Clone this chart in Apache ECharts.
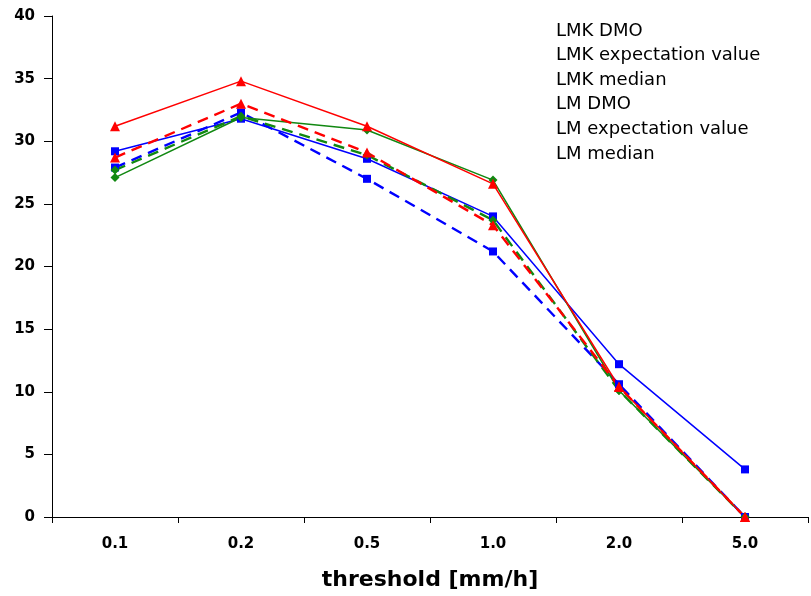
<!DOCTYPE html>
<html>
<head>
<meta charset="utf-8">
<script src="https://cdn.jsdelivr.net/npm/echarts@6/dist/echarts.min.js"></script>
<style>html,body{margin:0;padding:0;background:#fff;}#chart{width:811px;height:596px;}</style>
</head>
<body>
<div id="chart"></div>
<script>
var categories = ['0.1', '0.2', '0.5', '1.0', '2.0', '5.0'];
var seriesNames = ['LMK DMO', 'LMK expectation value', 'LMK median', 'LM DMO', 'LM expectation value', 'LM median'];
var lmkDMO = [29.2, 31.8, 28.6, 24.0, 12.2, 3.8];
var lmkExpectation = [31.2, 34.8, 31.2, 26.6, 10.4, 0];
var lmkMedian = [27.1, 31.9, 30.9, 26.9, 10.1, 0];
var lmDMO = [27.9, 32.3, 27.0, 21.2, 10.6, 0];
var lmExpectation = [28.7, 33.0, 29.1, 23.3, 10.4, 0];
var lmMedian = [27.7, 32.0, 28.9, 23.7, 10.1, 0];
var yTicks = {min: 0, max: 40, interval: 5};

var chart = echarts.init(document.getElementById('chart'));

function mk(name, data, color, symbol, size, dashed) {
  return {
    name: name, type: 'line', data: data,
    symbol: symbol, symbolSize: size,
    itemStyle: {color: color},
    lineStyle: {color: color, width: dashed ? 2.4 : 1.5, type: dashed ? [11, 7] : 'solid'},
    emphasis: {disabled: true}
  };
}

var option = {
  animation: false,
  backgroundColor: '#fff',
  grid: {left: 52, right: 3, top: 16, bottom: 79, containLabel: false},
  legend: {
    orient: 'vertical', left: 546, top: 16,
    itemWidth: 0, itemHeight: 0, itemGap: 4.6,
    selectedMode: false,
    icon: 'none',
    textStyle: {fontFamily: 'DejaVu Sans', fontSize: 18, color: '#000', lineHeight: 20},
    data: seriesNames
  },
  xAxis: {
    type: 'category', data: categories, boundaryGap: true,
    name: 'threshold [mm/h]', nameLocation: 'middle', nameGap: 52,
    nameTextStyle: {fontFamily: 'DejaVu Sans', fontWeight: 'bold', fontSize: 22, color: '#000'},
    axisLine: {lineStyle: {color: '#000', width: 1}},
    axisTick: {show: true, length: 6, lineStyle: {color: '#000'}},
    axisLabel: {margin: 20, fontFamily: 'DejaVu Sans', fontWeight: 'bold', fontSize: 15, color: '#000'},
    splitLine: {show: false}
  },
  yAxis: {
    type: 'value', min: yTicks.min, max: yTicks.max, interval: yTicks.interval,
    axisLine: {show: true, lineStyle: {color: '#000', width: 1}},
    axisTick: {show: true, length: 8, lineStyle: {color: '#000'}},
    axisLabel: {margin: 17, fontFamily: 'DejaVu Sans', fontWeight: 'bold', fontSize: 15, color: '#000'},
    splitLine: {show: false}
  },
  series: [
    mk(seriesNames[0], lmkDMO, '#0000ff', 'rect', 8, false),
    mk(seriesNames[3], lmDMO, '#0000ff', 'rect', 8, true),
    mk(seriesNames[2], lmkMedian, '#118811', 'diamond', 9, false),
    mk(seriesNames[5], lmMedian, '#118811', 'diamond', 9, true),
    mk(seriesNames[4], lmExpectation, '#ff0000', 'triangle', 10, true),
    mk(seriesNames[1], lmkExpectation, '#ff0000', 'triangle', 10, false)
  ]
};
chart.setOption(option);
</script>
</body>
</html>
